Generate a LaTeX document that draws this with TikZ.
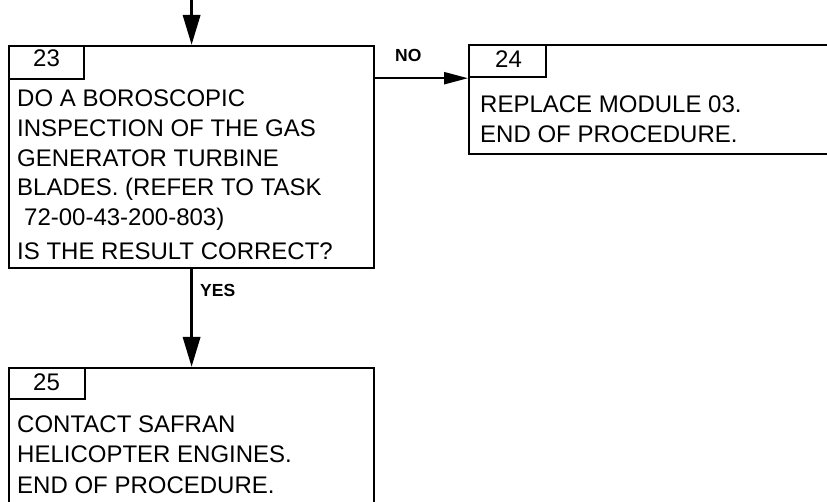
\documentclass[tikz,border=0pt]{standalone}
\usepackage{fontspec}
\setmainfont{Liberation Sans}
\usetikzlibrary{arrows.meta}
\begin{document}
\begin{tikzpicture}[x=1pt,y=-1pt,
  box/.style={draw,line width=2.2pt,anchor=north west,inner sep=0pt},
  txt/.style={anchor=base west,inner sep=0pt,font=\fontsize{24}{28}\selectfont},
  lbl/.style={anchor=base west,inner sep=0pt,font=\fontsize{17.5}{20}\selectfont\bfseries},
  vflow/.style={line width=3.4pt,-{Triangle[length=30pt,width=17pt]}},
  hflow/.style={line width=2.2pt,-{Triangle[length=24pt,width=12pt]}}]
\useasboundingbox (0,0) rectangle (827,502);
\begin{scope}
\clip (0,0) rectangle (827,502);
% box 23
\node[box,minimum width=365pt,minimum height=222pt] (b23) at (8,45) {};
\node[box,minimum width=75pt,minimum height=33pt] (n23) at (8,45) {};
% box 24
\node[box,minimum width=380pt,minimum height=109pt] (b24) at (468,44) {};
\node[box,minimum width=77pt,minimum height=32pt] (n24) at (468,44) {};
% box 25
\node[box,minimum width=365pt,minimum height=150pt] (b25) at (8,367) {};
\node[box,minimum width=76pt,minimum height=31pt] (n25) at (8,367) {};
\end{scope}
% texts
\node[txt] (t23) at (33,67) {23};
\node[txt] (l1) at (17,107) {DO A BOROSCOPIC};
\node[txt] (l2) at (17,137) {INSPECTION OF THE GAS};
\node[txt] (l3) at (17,167) {GENERATOR TURBINE};
\node[txt] (l4) at (17,196) {BLADES. (REFER TO TASK};
\node[txt] (l5) at (24,226) {72-00-43-200-803)};
\node[txt] (l6) at (17,260) {IS THE RESULT CORRECT?};
\node[txt] (t24) at (495,68) {24};
\node[txt] (m1) at (480,113) {REPLACE MODULE 03.};
\node[txt] (m2) at (480,143) {END OF PROCEDURE.};
\node[txt] (t25) at (33,390) {25};
\node[txt] (k1) at (17,432) {CONTACT SAFRAN};
\node[txt] (k2) at (17,462) {HELICOPTER ENGINES.};
\node[txt] (k3) at (17,493) {END OF PROCEDURE.};
\node[lbl] (no) at (395,62) {NO};
\node[lbl] (yes) at (200,297) {YES};
% connectors
\coordinate (top) at (b23.north |- 0,0);
\draw[vflow] (top) -- (b23.north);
\draw[hflow] (b23.east |- n24.south west) -- (n24.south west);
\draw[vflow] (b23.south) -- (b25.north);
\end{tikzpicture}
\end{document}
